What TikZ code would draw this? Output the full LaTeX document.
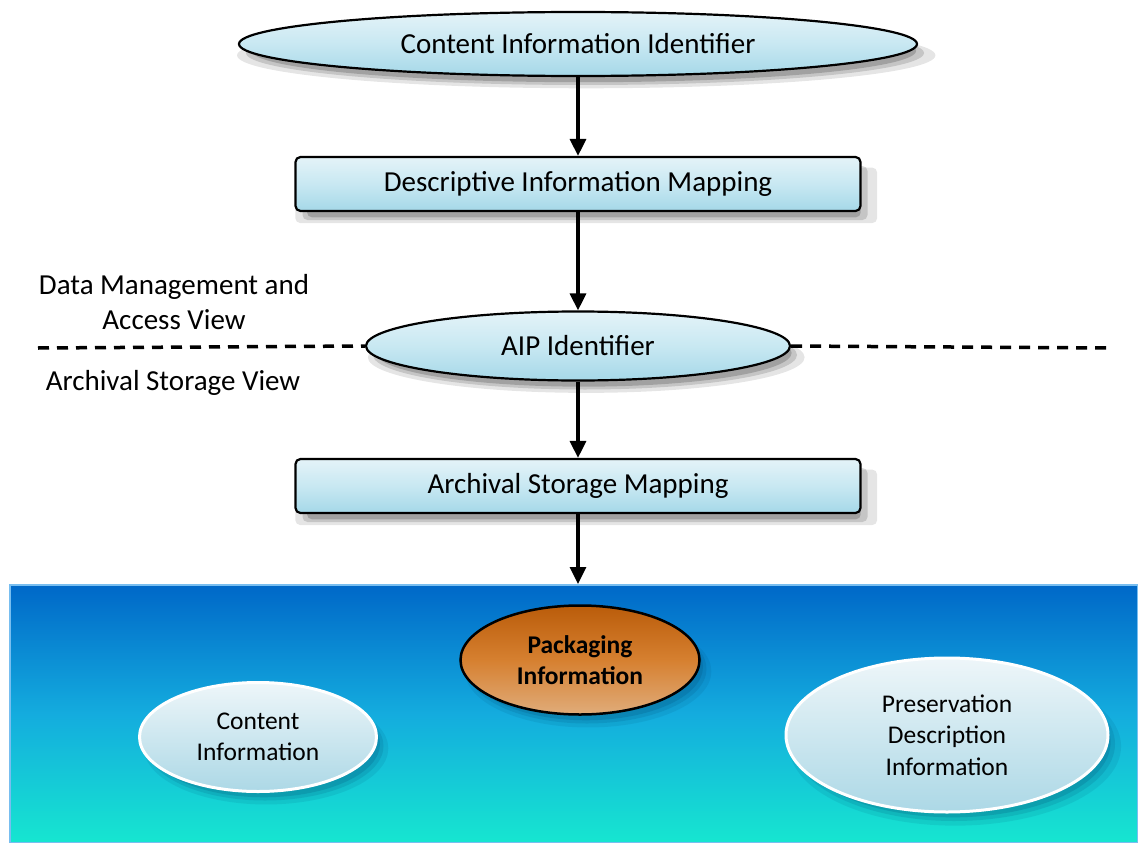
\documentclass[tikz,border=0pt]{standalone}
\usepackage{fontspec}
\setmainfont{Carlito}
\usetikzlibrary{shapes.geometric,shadows,arrows.meta}
\definecolor{boxtop}{RGB}{228,243,248}
\definecolor{boxmid}{RGB}{200,232,242}
\definecolor{boxbot}{RGB}{165,216,232}
\definecolor{bandtop}{RGB}{0,104,200}
\definecolor{bandmid}{RGB}{20,172,222}
\definecolor{bandbot}{RGB}{22,230,208}
\definecolor{pkgtop}{RGB}{186,92,10}
\definecolor{pkgmid}{RGB}{214,128,48}
\definecolor{pkgbot}{RGB}{224,172,122}
\definecolor{ovaltop}{RGB}{238,246,249}
\definecolor{ovalbot}{RGB}{172,216,230}
\definecolor{shadeblue}{RGB}{0,70,110}
\begin{document}
\begin{tikzpicture}[x=1pt,y=-1pt,
    softshadow/.style={
        drop shadow={shadow xshift=8pt, shadow yshift=-11pt, shadow scale=1.03, opacity=0.10, fill=#1},
        drop shadow={shadow xshift=7pt, shadow yshift=-9pt, shadow scale=1.0, opacity=0.14, fill=#1},
        drop shadow={shadow xshift=6pt, shadow yshift=-7pt, shadow scale=0.98, opacity=0.18, fill=#1}},
    softshadow/.default=black,
    flowbox/.style={draw, line width=2.2pt, rounded corners=5pt, top color=boxtop, bottom color=boxbot, middle color=boxmid,
        minimum width=565pt, minimum height=54pt, font=\fontsize{29}{35}\selectfont, softshadow},
    flowoval/.style={ellipse, draw, line width=2.2pt, top color=boxtop, bottom color=boxbot, middle color=boxmid,
        inner sep=0pt, font=\fontsize{29}{35}\selectfont, softshadow},
    bandoval/.style={ellipse, draw=white, line width=3pt, top color=ovaltop, bottom color=ovalbot,
        inner sep=0pt, align=center, font=\fontsize{25.5}{31.5}\selectfont, softshadow=shadeblue},
    viewtext/.style={align=center, font=\fontsize{29}{35}\selectfont},
    viewline/.style={line width=3.5pt, dash pattern=on 11pt off 8pt},
    flow/.style={-{Triangle[length=17pt,width=16pt]}, line width=3.2pt}]
    \useasboundingbox (0,0) rectangle (1138,843);
    % archival storage band
    \node[draw={rgb,255:red,120;green,190;blue,240}, line width=2pt, top color=bandtop, bottom color=bandbot, middle color=bandmid,
        minimum width=1128pt, minimum height=258pt, inner sep=0pt] (band) at (574,714) {};
    \node[flowoval, minimum width=678pt, minimum height=64pt] (cii) at (578,44) {Content Information Identifier};
    \node[flowbox] (dim) at (578,184) {Descriptive Information Mapping};
    \node[flowoval, minimum width=424pt, minimum height=69pt] (aip) at (578,346) {AIP Identifier};
    \node[flowbox] (asm) at (578,486) {Archival Storage Mapping};
    \node[viewtext] (dmav) at (174,302) {Data Management and\\Access View};
    \node[viewtext] (asv) at (173,383) {Archival Storage View};
    \coordinate (dl) at (38,348);
    \coordinate (dr) at (1112,348);
    \draw[viewline] (dl) -- (aip.west);
    \draw[viewline] (aip.east) -- (dr);
    \draw[flow] (cii) -- (dim);
    \draw[flow] (dim) -- (aip);
    \draw[flow] (aip) -- (asm);
    \draw[flow] (asm.south) -- (asm.south |- band.north);
    % packages inside the band
    \node[ellipse, draw, line width=2.5pt, top color=pkgtop, bottom color=pkgbot, middle color=pkgmid, inner sep=0pt,
        minimum width=239pt, minimum height=109pt, align=center, font=\fontsize{25.5}{31.5}\selectfont\bfseries,
        softshadow=shadeblue] (pkg) at (580,660) {Packaging\\Information};
    \node[bandoval, minimum width=237pt, minimum height=109pt] (ci) at (258,737) {Content\\Information};
    \node[bandoval, minimum width=322pt, minimum height=154pt] (pdi) at (947,735) {Preservation\\Description\\Information};
\end{tikzpicture}
\end{document}
